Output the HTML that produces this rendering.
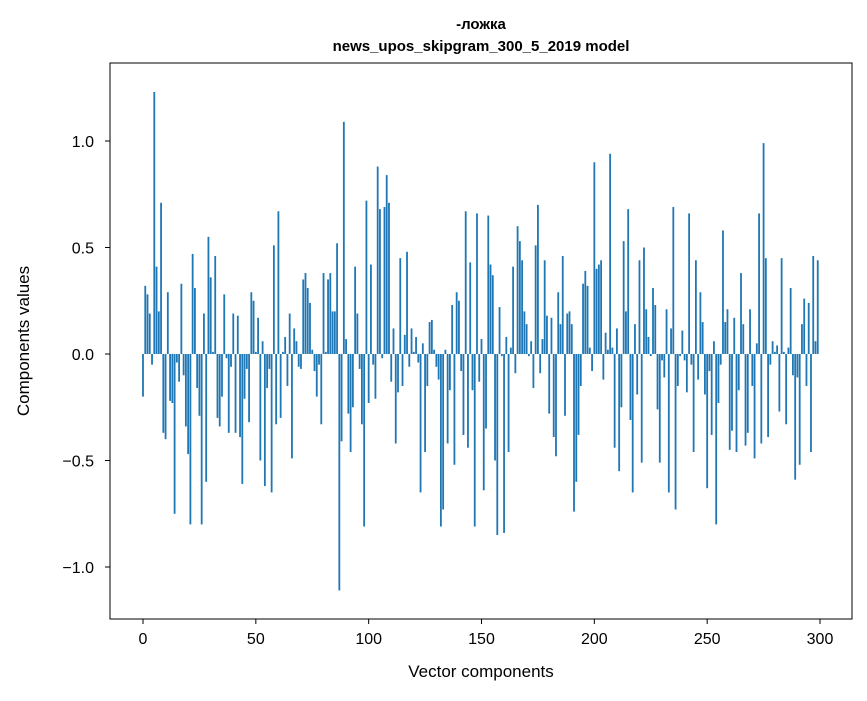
<!DOCTYPE html>
<html><head><meta charset="utf-8"><style>
body{margin:0;background:#fff;}
svg text{font-family:"Liberation Sans","DejaVu Sans",sans-serif;fill:#000;}
</style></head><body>
<svg id="chart" width="867" height="696" xmlns="http://www.w3.org/2000/svg">
<rect width="867" height="696" fill="#fff"/>
<text x="481" y="29" text-anchor="middle" font-size="15" font-weight="bold">-ложка</text>
<text x="481" y="51" text-anchor="middle" font-size="15" font-weight="bold">news_upos_skipgram_300_5_2019 model</text>
<g id="bars"></g>
<rect x="110" y="63" width="742" height="556" fill="none" stroke="#000" stroke-width="1"/>
<g id="xticks"></g>
<g id="yticks"></g>
<text x="481" y="677" text-anchor="middle" font-size="17">Vector components</text>
<text transform="translate(29,341) rotate(-90)" text-anchor="middle" font-size="17">Components values</text>
</svg>
<script>
const values = [
-0.20,0.32,0.28,0.19,-0.05,1.23,0.41,0.20,0.71,-0.37,
-0.40,0.29,-0.22,-0.23,-0.75,-0.04,-0.13,0.33,-0.10,-0.34,
-0.47,-0.80,0.47,0.31,-0.16,-0.29,-0.80,0.19,-0.60,0.55,
0.36,0.01,0.46,-0.30,-0.34,-0.20,0.28,-0.02,-0.37,-0.06,
0.19,-0.37,0.18,-0.39,-0.61,-0.21,-0.07,-0.32,0.29,0.25,
0.01,0.17,-0.50,0.06,-0.62,-0.16,-0.07,-0.65,0.51,-0.33,
0.67,-0.30,0.01,0.08,-0.15,0.19,-0.49,0.12,0.06,-0.06,
-0.07,0.35,0.38,0.31,0.24,0.02,-0.08,-0.20,-0.05,-0.33,
0.38,0.01,0.35,0.38,0.20,0.20,0.52,-1.11,-0.41,1.09,
0.07,-0.28,-0.46,-0.25,0.41,0.19,-0.07,-0.33,-0.81,0.72,
-0.23,0.42,-0.05,-0.21,0.88,0.68,-0.02,0.69,0.84,0.71,
-0.13,0.12,-0.42,-0.18,0.45,-0.15,0.09,0.48,-0.06,0.12,
0.01,0.08,-0.04,-0.65,0.05,-0.46,-0.15,0.15,0.16,0.02,
-0.06,-0.12,-0.81,-0.73,0.02,-0.42,-0.17,0.23,-0.52,0.29,
0.25,-0.08,-0.38,0.67,-0.44,0.43,-0.17,-0.81,0.66,-0.13,
0.07,-0.64,-0.35,0.65,0.42,0.37,-0.50,-0.85,0.22,-0.01,
-0.84,0.08,-0.46,0.03,0.41,-0.09,0.60,0.53,0.44,0.20,
0.14,-0.01,0.06,-0.16,0.51,0.70,-0.09,0.07,0.44,0.18,
-0.28,0.17,-0.39,-0.48,0.29,0.14,0.46,-0.29,0.19,0.20,
0.14,-0.74,-0.60,-0.38,-0.15,0.33,0.39,0.32,0.03,-0.08,
0.90,0.40,0.42,0.44,-0.12,0.10,0.02,0.94,0.03,-0.44,
0.12,-0.55,-0.25,0.53,0.20,0.68,-0.31,-0.65,0.14,-0.19,
0.44,-0.51,0.50,0.21,0.08,-0.01,0.31,0.23,-0.26,-0.51,
-0.03,-0.11,0.21,-0.65,0.12,0.69,-0.73,-0.15,-0.01,0.11,
-0.03,-0.18,0.66,-0.05,-0.46,0.44,-0.12,0.29,0.15,-0.19,
-0.63,-0.08,-0.38,0.06,-0.80,-0.23,-0.05,0.58,0.15,0.21,
-0.45,-0.36,0.17,-0.46,-0.17,0.38,0.14,-0.43,-0.37,0.21,
-0.15,-0.49,0.05,0.66,-0.42,0.99,0.45,-0.39,-0.05,0.06,
0.01,0.04,-0.27,0.45,0.01,-0.33,0.03,0.31,-0.10,-0.59,
-0.11,-0.52,0.14,0.26,-0.15,0.24,-0.46,0.46,0.06,0.44
];
const xTickValues = [0,50,100,150,200,250,300];
const yTickValues = [-1.0,-0.5,0.0,0.5,1.0];
const yTickLabels = ["\u22121.0","\u22120.5","0.0","0.5","1.0"];

const NS = "http://www.w3.org/2000/svg";
function xScale(v){ return 143 + v * (677/300); }
function yScale(v){ return 354 - v * 213; }

const bars = document.getElementById('bars');
values.forEach((v,i)=>{
  const r = document.createElementNS(NS,'rect');
  const w = 0.8*(677/300);
  const y0 = yScale(0), y1 = yScale(v);
  r.setAttribute('x', xScale(i) - w/2);
  r.setAttribute('y', Math.min(y0,y1));
  r.setAttribute('width', w);
  r.setAttribute('height', Math.max(0.3, Math.abs(y1-y0)));
  r.setAttribute('fill', '#1f77b4');
  
  
  bars.appendChild(r);
});

const xt = document.getElementById('xticks');
xTickValues.forEach(v=>{
  const x = xScale(v);
  const l = document.createElementNS(NS,'line');
  l.setAttribute('x1',x); l.setAttribute('x2',x);
  l.setAttribute('y1',619); l.setAttribute('y2',624);
  l.setAttribute('stroke','#000');
  
  
  xt.appendChild(l);
  const t = document.createElementNS(NS,'text');
  t.setAttribute('x',x); t.setAttribute('y',644);
  t.setAttribute('text-anchor','middle'); t.setAttribute('font-size','16');
  t.textContent = String(v);
  
  
  xt.appendChild(t);
});

const yt = document.getElementById('yticks');
yTickValues.forEach((v,i)=>{
  const y = yScale(v);
  const l = document.createElementNS(NS,'line');
  l.setAttribute('x1',105); l.setAttribute('x2',110);
  l.setAttribute('y1',y); l.setAttribute('y2',y);
  l.setAttribute('stroke','#000');
  
  
  yt.appendChild(l);
  const t = document.createElementNS(NS,'text');
  t.setAttribute('x',94); t.setAttribute('y',y+6);
  t.setAttribute('text-anchor','end'); t.setAttribute('font-size','16');
  t.textContent = yTickLabels[i];
  
  
  yt.appendChild(t);
});
</script>
</body></html>
